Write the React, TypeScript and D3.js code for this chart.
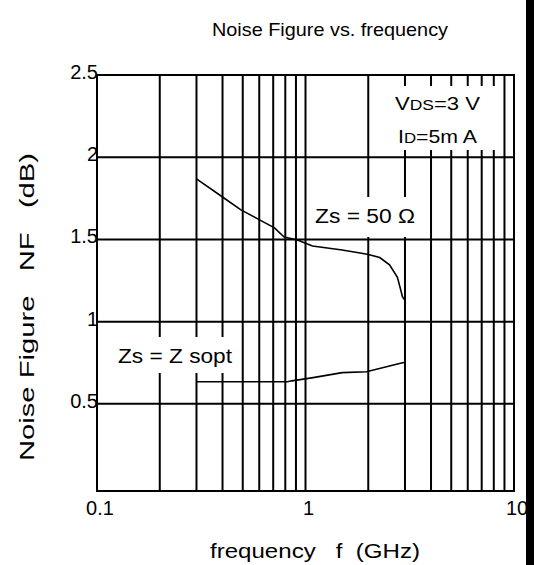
import React from "react";
import * as d3 from "d3";

const W = 534;
const H = 565;

const title = "Noise Figure vs. frequency";
const xLabel = "frequency   f  (GHz)";
const yLabel = "Noise Figure   NF   (dB)";

const xTicks = [0.1, 1, 10];
const xTickLabels = ["0.1", "1", "10"];
const yTicks = [0.5, 1, 1.5, 2, 2.5];
const yTickLabels = ["0.5", "1", "1.5", "2", "2.5"];
const yGrid = [0.5, 1, 1.5, 2];

// Zs = 50 ohm
const f50 = [0.3, 0.4, 0.49, 0.59, 0.71, 0.79, 0.915, 1.08, 1.5, 1.98, 2.27, 2.53, 2.76, 2.92, 3.0];
const nf50 = [1.868, 1.758, 1.68, 1.625, 1.57, 1.515, 1.497, 1.46, 1.436, 1.41, 1.39, 1.345, 1.27, 1.15, 1.13];

// Zs = Zsopt
const fOpt = [0.3, 0.82, 0.86, 1.07, 1.5, 1.96, 2.34, 2.92, 3.0];
const nfOpt = [0.634, 0.634, 0.64, 0.658, 0.69, 0.695, 0.72, 0.75, 0.752];

const FONT = "'Liberation Sans', Arial, Helvetica, sans-serif";

export default function App() {
  const x = d3.scaleLog().domain([0.1, 10]).range([97, 514]);
  const y = d3.scaleLinear().domain([-0.03, 2.5]).range([491, 75]);
  const [x0, x1] = x.range();
  const [yb, yt] = y.range();

  const minor: number[] = [];
  for (const dec of [0.1, 1]) {
    for (let k = 2; k <= 9; k++) minor.push(dec * k);
  }
  minor.push(1);

  const mk = (fs: number[], vs: number[]) =>
    d3
      .line<number>()
      .x((d) => x(d))
      .y((_, i) => y(vs[i]))(fs) || "";

  return (
    <svg
      width={W}
      height={H}
      style={{ position: "absolute", left: 0, top: 0, background: "#fff" }}
      fontFamily={FONT}
    >
      <rect x={0} y={0} width={W} height={H} fill="#fff" />
      {/* vertical grid */}
      {minor.map((f, i) => (
        <line key={"v" + i} x1={x(f)} x2={x(f)} y1={yt} y2={yb} stroke="#000" strokeWidth={2} />
      ))}
      {/* horizontal grid */}
      {yGrid.map((v, i) => (
        <line key={"h" + i} x1={x0} x2={x1} y1={y(v)} y2={y(v)} stroke="#000" strokeWidth={2} />
      ))}
      {/* label boxes covering grid */}
      <rect x={390} y={86} width={109} height={64} fill="#fff" />
      <rect x={310} y={197} width={115} height={40} fill="#fff" />
      <rect x={110} y={337} width={127} height={36} fill="#fff" />
      {/* frame */}
      <rect x={x0} y={yt} width={x1 - x0} height={yb - yt} fill="none" stroke="#000" strokeWidth={2} />
      {/* curves */}
      <path d={mk(f50, nf50)} fill="none" stroke="#000" strokeWidth={1.6} />
      <path d={mk(fOpt, nfOpt)} fill="none" stroke="#000" strokeWidth={1.6} />

      {/* annotations */}
      <text x={395} y={110} fontSize={19} fill="#000" textLength={85} lengthAdjust="spacingAndGlyphs">
        V<tspan fontSize={15}>DS</tspan>=3 V
      </text>
      <text x={398} y={143} fontSize={19} fill="#000" textLength={79} lengthAdjust="spacingAndGlyphs">
        I<tspan fontSize={15}>D</tspan>=5m A
      </text>
      <text x={315} y={223} fontSize={20} fill="#000" textLength={100} lengthAdjust="spacingAndGlyphs" style={{ whiteSpace: "pre" }}>
        {"Zs = 50 Ω"}
      </text>
      <text x={118} y={363} fontSize={20} fill="#000" textLength={114} lengthAdjust="spacingAndGlyphs" style={{ whiteSpace: "pre" }}>
        {"Zs = Z sopt"}
      </text>

      {/* y tick labels */}
      {yTicks.map((v, i) => (
        <text key={"yt" + i} x={98} y={y(v) + 4} fontSize={20} textAnchor="end" fill="#000">
          {yTickLabels[i]}
        </text>
      ))}
      {/* x tick labels */}
      {xTicks.map((v, i) => (
        <text key={"xt" + i} x={x(v) + 3} y={515} fontSize={20} textAnchor="middle" fill="#000">
          {xTickLabels[i]}
        </text>
      ))}

      <text x={330} y={36} fontSize={19} textAnchor="middle" fill="#000" textLength={236} lengthAdjust="spacingAndGlyphs">
        {title}
      </text>
      <text
        x={315}
        y={558}
        fontSize={20}
        textAnchor="middle"
        fill="#000"
        textLength={210}
        lengthAdjust="spacingAndGlyphs"
        style={{ whiteSpace: "pre" }}
      >
        {xLabel}
      </text>
      <text
        transform={`translate(34, 307) rotate(-90)`}
        fontSize={20}
        textAnchor="middle"
        fill="#000"
        textLength={308}
        lengthAdjust="spacingAndGlyphs"
        style={{ whiteSpace: "pre" }}
      >
        {yLabel}
      </text>

      {/* right black bar */}
      <rect x={526} y={0} width={W - 526} height={H} fill="#000" />
    </svg>
  );
}
